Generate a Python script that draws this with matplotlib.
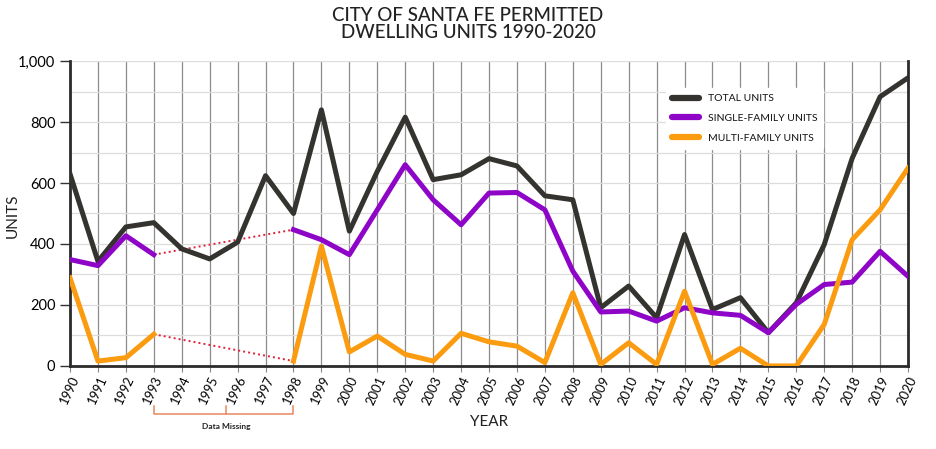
import numpy as np
import matplotlib.pyplot as plt
from matplotlib.ticker import FuncFormatter, MultipleLocator

plt.rcParams['font.family'] = ['Lato', 'DejaVu Sans']

years = list(range(1990, 2021))
total_units = [630, 343, 456, 470, 384, 351, 406, 624, 500, 840, 442, 638, 816, 611, 627, 680, 656,
               558, 545, 191, 262, 158, 431, 185, 224, 109, 207, 398, 681, 883, 945]
single_family = [349, 329, 427, 365, None, None, None, None, 447, 414, 365, 512, 660, 545, 463, 567,
                 569, 512, 311, 177, 180, 147, 191, 174, 166, 109, 202, 267, 275, 376, 294]
multi_family = [289, 16, 27, 104, None, None, None, None, 16, 393, 46, 98, 38, 16, 107, 79, 65,
                11, 240, 5, 76, 5, 245, 5, 58, 0, 0, 136, 414, 512, 649]
gap_start, gap_end = 1993, 1998

total_color = '#35332f'
single_color = '#8e05c8'
multi_color = '#fb9b0f'
gap_color = '#e0203a'
bracket_color = '#e9875f'

fig = plt.figure(figsize=(9.36, 4.49), dpi=100)
ax = fig.add_axes([0.0748, 0.185, 0.8953, 0.679])

yrs = np.array(years, dtype=float)
sf = np.array([np.nan if v is None else v for v in single_family], dtype=float)
mf = np.array([np.nan if v is None else v for v in multi_family], dtype=float)

# dotted connectors across the missing years
i0, i1 = years.index(gap_start), years.index(gap_end)
for series in (sf, mf):
    ax.plot([years[i0], years[i1]], [series[i0], series[i1]], color=gap_color,
            linestyle=(0, (1, 1.6)), linewidth=1.4, zorder=3)

ax.plot(yrs, total_units, color=total_color, linewidth=3.6, label='TOTAL UNITS', zorder=4)
ax.plot(yrs, sf, color=single_color, linewidth=3.6, label='SINGLE-FAMILY UNITS', zorder=5)
ax.plot(yrs, mf, color=multi_color, linewidth=3.6, label='MULTI-FAMILY UNITS', zorder=6)

ax.set_xlim(1990, 2020)
ax.set_ylim(0, 1000)
ax.set_xticks(years)
ax.set_xticklabels([str(y) for y in years], rotation=65, ha='right', rotation_mode='anchor',
                   fontsize=9.3)
ax.yaxis.set_major_locator(MultipleLocator(200))
ax.yaxis.set_minor_locator(MultipleLocator(100))
ax.yaxis.set_major_formatter(FuncFormatter(lambda v, p: f'{int(v):,}'))
ax.tick_params(axis='y', labelsize=10.5, length=7, width=1, color='#333333', which='major')
ax.tick_params(axis='y', which='minor', length=0)
ax.tick_params(axis='x', length=4, width=0.8, color='#888888', pad=2)

ax.grid(axis='x', color='#8c8c8c', linewidth=0.9, zorder=0)
ax.grid(axis='y', which='both', color='#dcdcdc', linewidth=0.9, zorder=0)
ax.set_axisbelow(True)

ax.spines['top'].set_visible(False)
for side in ('left', 'bottom', 'right'):
    ax.spines[side].set_color('#2b2b2b')
    ax.spines[side].set_linewidth(2)

fig.text(0.014, 0.52, 'UNITS', rotation=90, ha='center', va='center', fontsize=11,
         color='#222222')
ax.set_xlabel('YEAR', fontsize=11, labelpad=6, color='#222222')

fig.suptitle('CITY OF SANTA FE PERMITTED\nDWELLING UNITS 1990-2020', fontsize=13.5, y=0.985,
             linespacing=1.0, color='#222222', fontweight='medium')

leg = ax.legend(loc='upper left', bbox_to_anchor=(0.705, 0.93), frameon=True, fontsize=7.5,
                handlelength=2.6, labelspacing=1.0, borderpad=0.6, facecolor='white',
                edgecolor='white', framealpha=1)
for line in leg.get_lines():
    line.set_linewidth(4.5)
    line.set_solid_capstyle('round')
for t in leg.get_texts():
    t.set_color('#111111')

# "Data Missing" bracket below the year labels
trans = ax.get_xaxis_transform()
by = -0.158
ax.plot([gap_start, gap_start, gap_end, gap_end], [by + 0.028, by, by, by + 0.028],
        color=bracket_color, linewidth=1.1, transform=trans, clip_on=False)
mid = (gap_start + gap_end) / 2 + 0.1
ax.plot([mid, mid], [by, by + 0.028], color=bracket_color, linewidth=1.1, transform=trans,
        clip_on=False)
ax.text(mid, by - 0.03, 'Data Missing', transform=trans, ha='center', va='top', fontsize=6,
        fontweight='bold', color='#222222')

fig.savefig('out.png', dpi=100)
